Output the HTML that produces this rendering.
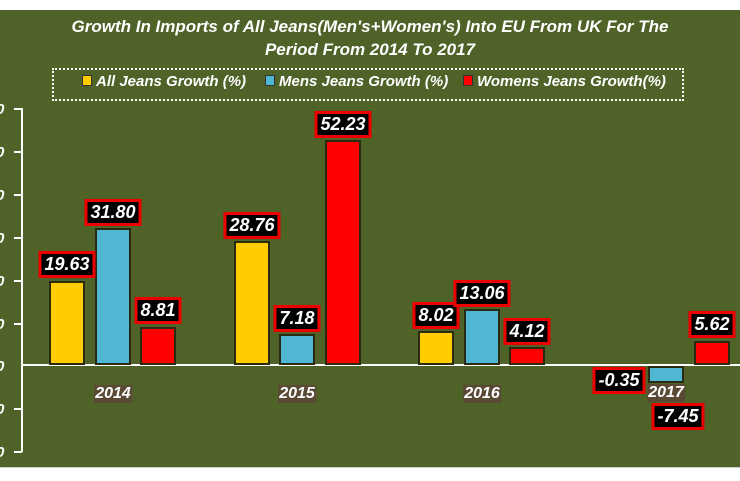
<!DOCTYPE html><html><head><style>
body{margin:0;width:740px;height:480px;background:#fff;position:relative;overflow:hidden;font-family:"Liberation Sans",sans-serif}
.bg{position:absolute;left:0;top:10px;width:740px;height:457px;background:#4f6228}
.bot{position:absolute;left:0;top:467px;width:740px;height:13px;background:#fff;border-top:1px solid #ccc}
.t{position:absolute;left:0;width:740px;text-align:center;color:#fff;font-weight:bold;font-style:italic;font-size:17px}
.b{position:absolute;box-sizing:border-box;border:2px solid #2a2a10}
.y{background:#ffcc00}.c{background:#4fb6d4}.r{background:#ff0000}
.l{position:absolute;background:#000;border:3px solid #e00;color:#fff;font-weight:bold;font-style:italic;font-size:18px;height:21px;line-height:21px;padding:0 3px;transform:translateX(-50%);white-space:nowrap}
.x{position:absolute;color:#fff;font-weight:bold;font-style:italic;font-size:16px;background:#5a4a35;padding:0 1px;transform:translateX(-50%)}
.tk{position:absolute;left:14px;width:8px;height:2px;background:#fff}
.n{position:absolute;left:-4px;color:#fff;font-weight:bold;font-style:italic;font-size:15px}
.lg{position:absolute;top:73px;color:#fff;font-weight:bold;font-style:italic;font-size:15px;white-space:nowrap}
.lg span{display:inline-block;width:8px;height:9px;border:1px solid #333;margin-right:4px}
</style></head><body>
<div class="bg"></div><div class="bot"></div>
<div class="t" style="top:17px">Growth In Imports of All Jeans(Men's+Women's) Into EU From UK For The</div>
<div class="t" style="top:40px">Period From 2014 To 2017</div>
<div style="position:absolute;left:52px;top:68px;width:628px;height:29px;border:2px dotted #fff"></div>
<div class="lg" style="left:82px"><span style="background:#ffcc00"></span>All Jeans Growth (%)</div>
<div class="lg" style="left:265px"><span style="background:#4fb6d4"></span>Mens Jeans Growth (%)</div>
<div class="lg" style="left:463px"><span style="background:#f00"></span>Womens Jeans Growth(%)</div>
<div style="position:absolute;left:21px;top:108px;width:2px;height:344px;background:#fff"></div>
<div class="tk" style="top:108px"></div><div class="tk" style="top:151px"></div><div class="tk" style="top:194px"></div><div class="tk" style="top:237px"></div><div class="tk" style="top:280px"></div><div class="tk" style="top:323px"></div><div class="tk" style="top:408px"></div><div class="tk" style="top:451px"></div>
<div class="n" style="top:101px">0</div><div class="n" style="top:144px">0</div><div class="n" style="top:187px">0</div><div class="n" style="top:230px">0</div><div class="n" style="top:273px">0</div><div class="n" style="top:316px">0</div><div class="n" style="top:358px">0</div><div class="n" style="top:401px">0</div><div class="n" style="top:444px">0</div>
<div style="position:absolute;left:21px;top:364px;width:719px;height:2px;background:#fff"></div>
<div class="b y" style="left:49px;top:281px;width:36px;height:84px"></div>
<div class="b c" style="left:95px;top:228px;width:36px;height:137px"></div>
<div class="b r" style="left:140px;top:327px;width:36px;height:38px"></div>
<div class="b y" style="left:234px;top:241px;width:36px;height:124px"></div>
<div class="b c" style="left:279px;top:334px;width:36px;height:31px"></div>
<div class="b r" style="left:325px;top:140px;width:36px;height:225px"></div>
<div class="b y" style="left:418px;top:331px;width:36px;height:34px"></div>
<div class="b c" style="left:464px;top:309px;width:36px;height:56px"></div>
<div class="b r" style="left:509px;top:347px;width:36px;height:18px"></div>
<div class="b c" style="left:648px;top:366px;width:36px;height:17px"></div>
<div class="b r" style="left:694px;top:341px;width:36px;height:24px"></div>
<div class="l" style="left:67px;top:251px">19.63</div>
<div class="l" style="left:113px;top:199px">31.80</div>
<div class="l" style="left:158px;top:297px">8.81</div>
<div class="l" style="left:252px;top:212px">28.76</div>
<div class="l" style="left:297px;top:305px">7.18</div>
<div class="l" style="left:343px;top:111px">52.23</div>
<div class="l" style="left:436px;top:302px">8.02</div>
<div class="l" style="left:482px;top:280px">13.06</div>
<div class="l" style="left:527px;top:318px">4.12</div>
<div class="l" style="left:619px;top:367px">-0.35</div>
<div class="l" style="left:678px;top:403px">-7.45</div>
<div class="l" style="left:712px;top:311px">5.62</div>
<div class="x" style="left:113px;top:385px">2014</div>
<div class="x" style="left:297px;top:385px">2015</div>
<div class="x" style="left:482px;top:385px">2016</div>
<div class="x" style="left:666px;top:384px">2017</div>
</body></html>
